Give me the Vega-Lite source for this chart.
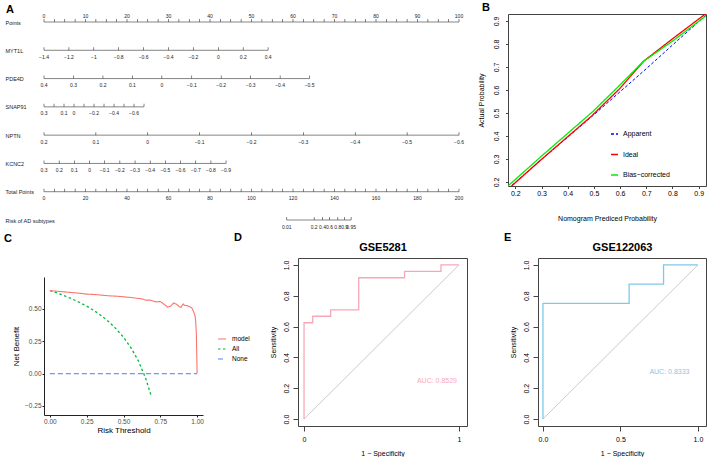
{
"$schema": "https://vega.github.io/schema/vega-lite/v6.json",
"background": "white",
"padding": {"left": 4, "top": 1, "right": 2, "bottom": 0},
"config": {
  "font": "Liberation Sans",
  "view": {"stroke": null},
  "axis": {"grid": false, "labelFont": "Liberation Sans", "titleFont": "Liberation Sans", "titleFontWeight": "normal", "labelColor": "#000", "titleColor": "#000", "tickColor": "#444", "domainColor": "#444"},
  "title": {"font": "Liberation Sans", "color": "#000"}
},
"datasets": {
  "nomo": [
    {"row":"Points","pts":0,"lab":"0"},{"row":"Points","pts":2.5,"lab":""},{"row":"Points","pts":5,"lab":""},{"row":"Points","pts":7.5,"lab":""},
    {"row":"Points","pts":10,"lab":"10"},{"row":"Points","pts":12.5,"lab":""},{"row":"Points","pts":15,"lab":""},{"row":"Points","pts":17.5,"lab":""},
    {"row":"Points","pts":20,"lab":"20"},{"row":"Points","pts":22.5,"lab":""},{"row":"Points","pts":25,"lab":""},{"row":"Points","pts":27.5,"lab":""},
    {"row":"Points","pts":30,"lab":"30"},{"row":"Points","pts":32.5,"lab":""},{"row":"Points","pts":35,"lab":""},{"row":"Points","pts":37.5,"lab":""},
    {"row":"Points","pts":40,"lab":"40"},{"row":"Points","pts":42.5,"lab":""},{"row":"Points","pts":45,"lab":""},{"row":"Points","pts":47.5,"lab":""},
    {"row":"Points","pts":50,"lab":"50"},{"row":"Points","pts":52.5,"lab":""},{"row":"Points","pts":55,"lab":""},{"row":"Points","pts":57.5,"lab":""},
    {"row":"Points","pts":60,"lab":"60"},{"row":"Points","pts":62.5,"lab":""},{"row":"Points","pts":65,"lab":""},{"row":"Points","pts":67.5,"lab":""},
    {"row":"Points","pts":70,"lab":"70"},{"row":"Points","pts":72.5,"lab":""},{"row":"Points","pts":75,"lab":""},{"row":"Points","pts":77.5,"lab":""},
    {"row":"Points","pts":80,"lab":"80"},{"row":"Points","pts":82.5,"lab":""},{"row":"Points","pts":85,"lab":""},{"row":"Points","pts":87.5,"lab":""},
    {"row":"Points","pts":90,"lab":"90"},{"row":"Points","pts":92.5,"lab":""},{"row":"Points","pts":95,"lab":""},{"row":"Points","pts":97.5,"lab":""},
    {"row":"Points","pts":100,"lab":"100"},
    {"row":"MYT1L","pts":0,"lab":"−1.4"},{"row":"MYT1L","pts":6,"lab":"−1.2"},{"row":"MYT1L","pts":12,"lab":"−1"},{"row":"MYT1L","pts":18,"lab":"−0.8"},
    {"row":"MYT1L","pts":24,"lab":"−0.6"},{"row":"MYT1L","pts":30,"lab":"−0.4"},{"row":"MYT1L","pts":36,"lab":"−0.2"},{"row":"MYT1L","pts":42,"lab":"0"},
    {"row":"MYT1L","pts":48,"lab":"0.2"},{"row":"MYT1L","pts":54,"lab":"0.4"},
    {"row":"PDE4D","pts":0,"lab":"0.4"},{"row":"PDE4D","pts":7.1,"lab":"0.3"},{"row":"PDE4D","pts":14.2,"lab":"0.2"},{"row":"PDE4D","pts":21.3,"lab":"0.1"},
    {"row":"PDE4D","pts":28.4,"lab":"0"},{"row":"PDE4D","pts":35.6,"lab":"−0.1"},{"row":"PDE4D","pts":42.7,"lab":"−0.2"},{"row":"PDE4D","pts":49.8,"lab":"−0.3"},
    {"row":"PDE4D","pts":56.9,"lab":"−0.4"},{"row":"PDE4D","pts":64,"lab":"−0.5"},
    {"row":"SNAP91","pts":0,"lab":"0.3"},{"row":"SNAP91","pts":2.41,"lab":""},{"row":"SNAP91","pts":4.82,"lab":"0.1"},{"row":"SNAP91","pts":7.23,"lab":"0"},
    {"row":"SNAP91","pts":9.64,"lab":""},{"row":"SNAP91","pts":12.05,"lab":"−0.2"},{"row":"SNAP91","pts":14.46,"lab":""},{"row":"SNAP91","pts":16.87,"lab":"−0.4"},
    {"row":"SNAP91","pts":19.28,"lab":""},{"row":"SNAP91","pts":21.69,"lab":"−0.6"},{"row":"SNAP91","pts":24.1,"lab":""},
    {"row":"NPTN","pts":0,"lab":"0.2"},{"row":"NPTN","pts":12.5,"lab":"0.1"},{"row":"NPTN","pts":25,"lab":"0"},{"row":"NPTN","pts":37.5,"lab":"−0.1"},
    {"row":"NPTN","pts":50,"lab":"−0.2"},{"row":"NPTN","pts":62.5,"lab":"−0.3"},{"row":"NPTN","pts":75,"lab":"−0.4"},{"row":"NPTN","pts":87.5,"lab":"−0.5"},
    {"row":"NPTN","pts":100,"lab":"−0.6"},
    {"row":"KCNC2","pts":0,"lab":"0.3"},{"row":"KCNC2","pts":3.66,"lab":"0.2"},{"row":"KCNC2","pts":7.31,"lab":"0.1"},{"row":"KCNC2","pts":10.97,"lab":"0"},
    {"row":"KCNC2","pts":14.62,"lab":"−0.1"},{"row":"KCNC2","pts":18.28,"lab":"−0.2"},{"row":"KCNC2","pts":21.94,"lab":"−0.3"},{"row":"KCNC2","pts":25.59,"lab":"−0.4"},
    {"row":"KCNC2","pts":29.25,"lab":"−0.5"},{"row":"KCNC2","pts":32.9,"lab":"−0.6"},{"row":"KCNC2","pts":36.56,"lab":"−0.7"},{"row":"KCNC2","pts":40.22,"lab":"−0.8"},
    {"row":"KCNC2","pts":43.87,"lab":"−0.9"},
    {"row":"Total Points","pts":0,"lab":"0"},{"row":"Total Points","pts":2.5,"lab":""},{"row":"Total Points","pts":5,"lab":""},{"row":"Total Points","pts":7.5,"lab":""},
    {"row":"Total Points","pts":10,"lab":"20"},{"row":"Total Points","pts":12.5,"lab":""},{"row":"Total Points","pts":15,"lab":""},{"row":"Total Points","pts":17.5,"lab":""},
    {"row":"Total Points","pts":20,"lab":"40"},{"row":"Total Points","pts":22.5,"lab":""},{"row":"Total Points","pts":25,"lab":""},{"row":"Total Points","pts":27.5,"lab":""},
    {"row":"Total Points","pts":30,"lab":"60"},{"row":"Total Points","pts":32.5,"lab":""},{"row":"Total Points","pts":35,"lab":""},{"row":"Total Points","pts":37.5,"lab":""},
    {"row":"Total Points","pts":40,"lab":"80"},{"row":"Total Points","pts":42.5,"lab":""},{"row":"Total Points","pts":45,"lab":""},{"row":"Total Points","pts":47.5,"lab":""},
    {"row":"Total Points","pts":50,"lab":"100"},{"row":"Total Points","pts":52.5,"lab":""},{"row":"Total Points","pts":55,"lab":""},{"row":"Total Points","pts":57.5,"lab":""},
    {"row":"Total Points","pts":60,"lab":"120"},{"row":"Total Points","pts":62.5,"lab":""},{"row":"Total Points","pts":65,"lab":""},{"row":"Total Points","pts":67.5,"lab":""},
    {"row":"Total Points","pts":70,"lab":"140"},{"row":"Total Points","pts":72.5,"lab":""},{"row":"Total Points","pts":75,"lab":""},{"row":"Total Points","pts":77.5,"lab":""},
    {"row":"Total Points","pts":80,"lab":"160"},{"row":"Total Points","pts":82.5,"lab":""},{"row":"Total Points","pts":85,"lab":""},{"row":"Total Points","pts":87.5,"lab":""},
    {"row":"Total Points","pts":90,"lab":"180"},{"row":"Total Points","pts":92.5,"lab":""},{"row":"Total Points","pts":95,"lab":""},{"row":"Total Points","pts":97.5,"lab":""},
    {"row":"Total Points","pts":100,"lab":"200"},
    {"row":"Risk of AD subtypes","pts":58.5,"lab":"0.01"},{"row":"Risk of AD subtypes","pts":65.1,"lab":"0.2"},{"row":"Risk of AD subtypes","pts":67.1,"lab":"0.4"},
    {"row":"Risk of AD subtypes","pts":68.8,"lab":"0.6"},{"row":"Risk of AD subtypes","pts":70.8,"lab":"0.8"},{"row":"Risk of AD subtypes","pts":72.45,"lab":"0.9"},
    {"row":"Risk of AD subtypes","pts":74,"lab":"0.95"}
  ],
  "calib": [
    {"series":"Apparent","x":0.172,"y":0.17},{"series":"Apparent","x":0.3,"y":0.297},{"series":"Apparent","x":0.5,"y":0.492},
    {"series":"Apparent","x":0.7,"y":0.692},{"series":"Apparent","x":0.8,"y":0.795},{"series":"Apparent","x":0.928,"y":0.925},
    {"series":"Ideal","x":0.172,"y":0.168},{"series":"Ideal","x":0.3,"y":0.298},{"series":"Ideal","x":0.49,"y":0.485},{"series":"Ideal","x":0.6,"y":0.607},
    {"series":"Ideal","x":0.69,"y":0.725},{"series":"Ideal","x":0.8,"y":0.822},{"series":"Ideal","x":0.928,"y":0.932},
    {"series":"Bias−corrected","x":0.172,"y":0.182},{"series":"Bias−corrected","x":0.3,"y":0.312},{"series":"Bias−corrected","x":0.495,"y":0.505},
    {"series":"Bias−corrected","x":0.6,"y":0.622},{"series":"Bias−corrected","x":0.69,"y":0.725},{"series":"Bias−corrected","x":0.8,"y":0.812},
    {"series":"Bias−corrected","x":0.928,"y":0.922}
  ],
  "dca": [
    {"series":"model","x":0,"y":0.64},{"series":"model","x":0.05,"y":0.635},{"series":"model","x":0.1,"y":0.63},{"series":"model","x":0.15,"y":0.625},
    {"series":"model","x":0.2,"y":0.62},{"series":"model","x":0.25,"y":0.613},{"series":"model","x":0.3,"y":0.61},{"series":"model","x":0.35,"y":0.605},
    {"series":"model","x":0.4,"y":0.6},{"series":"model","x":0.45,"y":0.597},{"series":"model","x":0.5,"y":0.592},{"series":"model","x":0.55,"y":0.587},
    {"series":"model","x":0.6,"y":0.58},{"series":"model","x":0.63,"y":0.575},{"series":"model","x":0.65,"y":0.566},{"series":"model","x":0.68,"y":0.567},
    {"series":"model","x":0.7,"y":0.56},{"series":"model","x":0.72,"y":0.553},{"series":"model","x":0.75,"y":0.556},{"series":"model","x":0.77,"y":0.54},
    {"series":"model","x":0.8,"y":0.512},{"series":"model","x":0.82,"y":0.52},{"series":"model","x":0.84,"y":0.545},{"series":"model","x":0.86,"y":0.535},
    {"series":"model","x":0.88,"y":0.515},{"series":"model","x":0.89,"y":0.51},{"series":"model","x":0.905,"y":0.537},{"series":"model","x":0.915,"y":0.525},
    {"series":"model","x":0.93,"y":0.525},{"series":"model","x":0.95,"y":0.515},{"series":"model","x":0.965,"y":0.505},{"series":"model","x":0.975,"y":0.48},
    {"series":"model","x":0.985,"y":0.45},{"series":"model","x":0.99,"y":0.41},{"series":"model","x":0.995,"y":0.3},{"series":"model","x":1.0,"y":0.0},
    {"series":"All","x":0,"y":0.64},{"series":"All","x":0.05,"y":0.621},{"series":"All","x":0.1,"y":0.6},{"series":"All","x":0.15,"y":0.576},
    {"series":"All","x":0.2,"y":0.55},{"series":"All","x":0.25,"y":0.52},{"series":"All","x":0.3,"y":0.486},{"series":"All","x":0.35,"y":0.446},
    {"series":"All","x":0.4,"y":0.4},{"series":"All","x":0.45,"y":0.345},{"series":"All","x":0.5,"y":0.28},{"series":"All","x":0.55,"y":0.2},
    {"series":"All","x":0.6,"y":0.1},{"series":"All","x":0.65,"y":-0.035},{"series":"All","x":0.69,"y":-0.18},
    {"series":"None","x":0,"y":0},{"series":"None","x":1,"y":0}
  ],
  "rocD": [
    {"i":0,"x":0,"y":0},{"i":1,"x":0,"y":0.625},{"i":2,"x":0.056,"y":0.625},{"i":3,"x":0.056,"y":0.667},{"i":4,"x":0.172,"y":0.667},
    {"i":5,"x":0.172,"y":0.708},{"i":6,"x":0.353,"y":0.708},{"i":7,"x":0.353,"y":0.917},{"i":8,"x":0.649,"y":0.917},{"i":9,"x":0.649,"y":0.958},
    {"i":10,"x":0.884,"y":0.958},{"i":11,"x":0.884,"y":1},{"i":12,"x":1,"y":1}
  ],
  "rocE": [
    {"i":0,"x":0,"y":0},{"i":1,"x":0,"y":0.75},{"i":2,"x":0.556,"y":0.75},{"i":3,"x":0.556,"y":0.875},{"i":4,"x":0.778,"y":0.875},
    {"i":5,"x":0.778,"y":1},{"i":6,"x":1,"y":1}
  ]
},
"spacing": 1,
"resolve": {"scale": {"color": "independent", "strokeDash": "independent"}, "legend": {"color": "independent", "strokeDash": "independent"}},
"vconcat": [
  {
    "spacing": 49,
    "bounds": "flush",
    "resolve": {"scale": {"color": "independent", "strokeDash": "independent"}, "legend": {"color": "independent", "strokeDash": "independent"}},
    "hconcat": [
      {
        "width": 415, "height": 206,
        "title": {"text": "A", "anchor": "start", "frame": "group", "dx": -38, "offset": -10.2, "baseline": "alphabetic", "fontSize": 11, "fontWeight": "bold"},
        "data": {"name": "nomo"},
        "encoding": {
          "y": {"field": "row", "type": "nominal",
                "scale": {"type": "point", "padding": 0, "domain": ["Points","MYT1L","PDE4D","SNAP91","NPTN","KCNC2","Total Points","Risk of AD subtypes"], "range": [8, 206]},
                "axis": {"title": null, "domain": false, "ticks": false, "tickSize": 0, "labelAlign": "left", "labelPadding": 39, "labelFontSize": 5.5, "labelColor": "#222", "labelBaseline": "middle", "labelLimit": 200}},
          "x": {"field": "pts", "type": "quantitative", "scale": {"domain": [0, 100], "nice": false, "zero": false}, "axis": null}
        },
        "layer": [
          {"mark": {"type": "rule", "stroke": "#333", "strokeWidth": 0.6},
           "encoding": {"x": {"aggregate": "min", "field": "pts", "type": "quantitative"}, "x2": {"aggregate": "max", "field": "pts"}}},
          {"mark": {"type": "tick", "size": 3, "thickness": 0.6, "yOffset": -1.5, "color": "#333", "opacity": 1}},
          {"transform": [{"filter": "datum.lab != '' && datum.row != 'Points'"}],
           "mark": {"type": "text", "fontSize": 5, "dy": 6.5, "baseline": "middle", "color": "#222"},
           "encoding": {"text": {"field": "lab"}}},
          {"transform": [{"filter": "datum.lab != '' && datum.row == 'Points'"}],
           "mark": {"type": "text", "fontSize": 5, "dy": -6, "baseline": "middle", "color": "#222"},
           "encoding": {"text": {"field": "lab"}}}
        ]
      },
      {
        "width": 198, "height": 172,
        "view": {"stroke": "#444", "strokeWidth": 1},
        "title": {"text": "B", "anchor": "start", "frame": "group", "dx": -26, "offset": -8, "baseline": "alphabetic", "fontSize": 11, "fontWeight": "bold"},
        "data": {"name": "calib"},
        "encoding": {
          "x": {"field": "x", "type": "quantitative", "scale": {"domain": [0.172, 0.928], "nice": false, "zero": false},
                "axis": {"values": [0.2,0.3,0.4,0.5,0.6,0.7,0.8,0.9], "format": ".1f", "domain": false, "tickSize": 2.5, "labelPadding": 1, "labelFontSize": 7, "title": "Nomogram Prediced Probability", "titleFontSize": 7, "titlePadding": 18}},
          "y": {"field": "y", "type": "quantitative", "scale": {"domain": [0.182, 0.93], "nice": false, "zero": false},
                "axis": {"values": [0.2,0.3,0.4,0.5,0.6,0.7,0.8,0.9], "format": ".1f", "domain": false, "tickSize": 2.5, "labelPadding": 6.5, "labelAngle": -90, "labelAlign": "center", "labelBaseline": "bottom", "labelFontSize": 7, "title": "Actual Probability", "titleFontSize": 7, "titlePadding": 8}},
          "color": {"field": "series", "type": "nominal",
                    "scale": {"domain": ["Apparent","Ideal","Bias−corrected"], "range": ["#0000FF","#FF0000","#00EE00"]},
                    "legend": {"orient": "none", "legendX": 102, "legendY": 115.5, "title": null, "symbolType": "stroke", "symbolSize": 49, "symbolStrokeWidth": 1.3, "rowPadding": 12.5, "labelOffset": 4, "labelFontSize": 7, "labelColor": "#000", "padding": 0}},
          "strokeDash": {"field": "series", "type": "nominal",
                    "scale": {"domain": ["Apparent","Ideal","Bias−corrected"], "range": [[3,2],[1,0],[1,0]]},
                    "legend": {"orient": "none", "legendX": 102, "legendY": 115.5, "title": null, "symbolType": "stroke", "symbolSize": 49, "symbolStrokeWidth": 1.3, "rowPadding": 12.5, "labelOffset": 4, "labelFontSize": 7, "labelColor": "#000", "padding": 0}}
        },
        "layer": [
          {"transform": [{"filter": "datum.series == 'Apparent'"}], "mark": {"type": "line", "strokeWidth": 1, "clip": true}},
          {"transform": [{"filter": "datum.series == 'Ideal'"}], "mark": {"type": "line", "strokeWidth": 1.3, "clip": true}},
          {"transform": [{"filter": "datum.series == 'Bias−corrected'"}], "mark": {"type": "line", "strokeWidth": 1.3, "clip": true}}
        ]
      }
    ]
  },
  {
    "spacing": 71,
    "bounds": "flush",
    "resolve": {"scale": {"color": "independent", "strokeDash": "independent"}, "legend": {"color": "independent", "strokeDash": "independent"}},
    "hconcat": [
      {
        "width": 183, "height": 157,
        "title": {"text": "C", "anchor": "start", "frame": "group", "dx": -40, "offset": 4.7, "baseline": "alphabetic", "fontSize": 11, "fontWeight": "bold"},
        "data": {"name": "dca"},
        "encoding": {
          "x": {"field": "x", "type": "quantitative", "scale": {"domain": [-0.04, 1.04], "range": [0, 159], "nice": false, "zero": false},
                "axis": {"values": [0,0.25,0.5,0.75,1], "format": ".2f", "domainColor": "#222", "tickColor": "#222", "tickSize": 2, "labelPadding": 1, "labelFontSize": 6.5, "labelColor": "#4D4D4D", "title": "Risk Threshold", "titleFontSize": 8, "titlePadding": 2}},
          "y": {"field": "y", "type": "quantitative", "scale": {"domain": [-0.32, 0.745], "range": [157, 19], "nice": false, "zero": false},
                "axis": {"values": [-0.25,0,0.25,0.5], "format": ".2f", "domainColor": "#222", "tickColor": "#222", "tickSize": 2, "labelPadding": 1, "labelFontSize": 6.5, "labelColor": "#4D4D4D", "title": "Net Benefit", "titleFontSize": 8, "titlePadding": 4}},
          "color": {"field": "series", "type": "nominal",
                    "scale": {"domain": ["model","All","None"], "range": ["#F8766D","#00BA38","#619CFF"]},
                    "legend": {"orient": "none", "legendX": 173, "legendY": 76, "title": null, "symbolType": "stroke", "symbolSize": 64, "symbolStrokeWidth": 1.2, "rowPadding": 1, "labelOffset": 5, "labelFontSize": 6.5, "labelColor": "#000", "padding": 0}},
          "strokeDash": {"field": "series", "type": "nominal",
                    "scale": {"domain": ["model","All","None"], "range": [[1,0],[2.5,2.5],[5,3]]},
                    "legend": {"orient": "none", "legendX": 173, "legendY": 76, "title": null, "symbolType": "stroke", "symbolSize": 64, "symbolStrokeWidth": 1.2, "rowPadding": 1, "labelOffset": 5, "labelFontSize": 6.5, "labelColor": "#000", "padding": 0}}
        },
        "layer": [
          {"transform": [{"filter": "datum.series == 'None'"}], "mark": {"type": "line", "strokeWidth": 1.2}},
          {"transform": [{"filter": "datum.series == 'All'"}], "mark": {"type": "line", "strokeWidth": 1.3}},
          {"transform": [{"filter": "datum.series == 'model'"}], "mark": {"type": "line", "strokeWidth": 1.1}}
        ]
      },
      {
        "width": 169, "height": 168,
        "view": {"stroke": "#444", "strokeWidth": 1},
        "title": {"text": "D", "anchor": "start", "frame": "group", "dx": -64, "offset": -11, "baseline": "alphabetic", "fontSize": 11, "fontWeight": "bold"},
        "encoding": {
          "y": {"field": "y", "type": "quantitative", "scale": {"domain": [-0.045, 1.045], "nice": false, "zero": false},
                "axis": {"values": [0,0.2,0.4,0.6,0.8,1], "format": ".1f", "domain": false, "tickSize": 5, "labelPadding": 3.3, "labelAngle": -90, "labelAlign": "center", "labelBaseline": "bottom", "labelFontSize": 7, "title": "Sensitivity", "titleFontSize": 7, "titlePadding": 6.7}}
        },
        "layer": [
          {"data": {"values": [{"x": 0, "y": 0}, {"x": 1, "y": 1}]},
           "mark": {"type": "line", "color": "#BEBEBE", "strokeWidth": 0.8},
           "encoding": {"x": {"field": "x", "type": "quantitative", "scale": {"domain": [-0.039, 1.052], "nice": false, "zero": false},
                "axis": {"values": [0, 1], "format": ".0f", "domain": false, "tickSize": 5, "labelPadding": 4.5, "labelFontSize": 7, "title": "1 − Specificity", "titleFontSize": 7, "titlePadding": 7}}}},
          {"data": {"name": "rocD"},
           "mark": {"type": "line", "color": "#F7A8B8", "strokeWidth": 1.3},
           "encoding": {"x": {"field": "x", "type": "quantitative", "scale": {"domain": [-0.039, 1.052], "nice": false, "zero": false},
                "axis": {"orient": "top", "labels": false, "ticks": false, "domain": false, "title": "GSE5281", "titleFontSize": 11, "titleFontWeight": "bold", "titlePadding": 6}},
                "order": {"field": "i", "type": "quantitative"}}},
          {"data": {"values": [{"x": 0.858, "y": 0.249, "auc": "AUC: 0.8529"}]},
           "mark": {"type": "text", "color": "#F7A8B8", "fontSize": 7, "align": "center", "baseline": "middle"},
           "encoding": {"x": {"field": "x", "type": "quantitative", "scale": {"domain": [-0.039, 1.052], "nice": false, "zero": false}, "axis": null}, "text": {"field": "auc"}}}
        ],
        "resolve": {"axis": {"x": "independent"}}
      },
      {
        "width": 168, "height": 168,
        "view": {"stroke": "#444", "strokeWidth": 1},
        "title": {"text": "E", "anchor": "start", "frame": "group", "dx": -34, "offset": -11, "baseline": "alphabetic", "fontSize": 11, "fontWeight": "bold"},
        "encoding": {
          "y": {"field": "y", "type": "quantitative", "scale": {"domain": [-0.045, 1.045], "nice": false, "zero": false},
                "axis": {"values": [0,0.2,0.4,0.6,0.8,1], "format": ".1f", "domain": false, "tickSize": 5, "labelPadding": 3.3, "labelAngle": -90, "labelAlign": "center", "labelBaseline": "bottom", "labelFontSize": 7, "title": "Sensitivity", "titleFontSize": 7, "titlePadding": 6.7}}
        },
        "layer": [
          {"data": {"values": [{"x": 0, "y": 0}, {"x": 1, "y": 1}]},
           "mark": {"type": "line", "color": "#BEBEBE", "strokeWidth": 0.8},
           "encoding": {"x": {"field": "x", "type": "quantitative", "scale": {"domain": [-0.032, 1.052], "nice": false, "zero": false},
                "axis": {"values": [0, 0.5, 1], "format": ".1f", "domain": false, "tickSize": 5, "labelPadding": 4.5, "labelFontSize": 7, "title": "1 − Specificity", "titleFontSize": 7, "titlePadding": 7}}}},
          {"data": {"name": "rocE"},
           "mark": {"type": "line", "color": "#7FC9E8", "strokeWidth": 1.3},
           "encoding": {"x": {"field": "x", "type": "quantitative", "scale": {"domain": [-0.032, 1.052], "nice": false, "zero": false},
                "axis": {"orient": "top", "labels": false, "ticks": false, "domain": false, "title": "GSE122063", "titleFontSize": 11, "titleFontWeight": "bold", "titlePadding": 6}},
                "order": {"field": "i", "type": "quantitative"}}},
          {"data": {"values": [{"x": 0.816, "y": 0.305, "auc": "AUC: 0.8333"}]},
           "mark": {"type": "text", "color": "#7FC9E8", "fontSize": 7, "align": "center", "baseline": "middle"},
           "encoding": {"x": {"field": "x", "type": "quantitative", "scale": {"domain": [-0.032, 1.052], "nice": false, "zero": false}, "axis": null}, "text": {"field": "auc"}}}
        ],
        "resolve": {"axis": {"x": "independent"}}
      }
    ]
  }
]
}
